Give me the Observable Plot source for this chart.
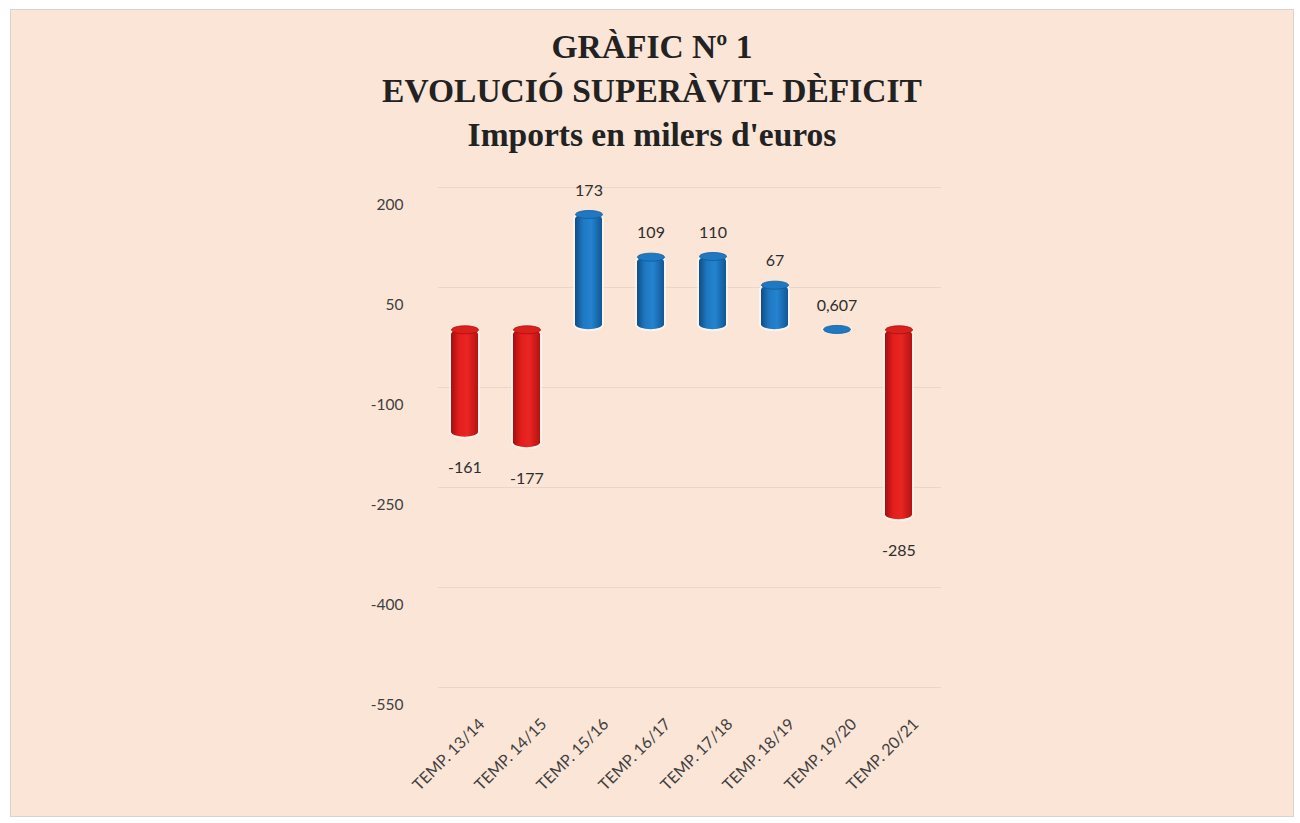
<!DOCTYPE html>
<html>
<head>
<meta charset="utf-8">
<script src="https://cdn.jsdelivr.net/npm/d3@7"></script>
<script src="https://cdn.jsdelivr.net/npm/@observablehq/plot@0.6"></script>
<style>
  html, body { margin: 0; padding: 0; background: #ffffff; }
  body { width: 1300px; height: 823px; position: relative; overflow: hidden; }
  #bg { position: absolute; left: 10px; top: 9px; width: 1284px; height: 808px;
        background: #fae5d6; border: 1px solid #d9d2ce; box-sizing: border-box; }
  #title { position: absolute; left: 0; top: 25px; width: 1304px; text-align: center;
           font-family: "Liberation Serif", "DejaVu Serif", serif; font-weight: bold;
           color: #222222; font-size: 33.5px; line-height: 44px; }
  #chart { position: absolute; left: 0; top: 160px; }
</style>
</head>
<body>
<div id="bg"></div>
<div id="title">
  <div>GRÀFIC Nº 1</div>
  <div>EVOLUCIÓ SUPERÀVIT- DÈFICIT</div>
  <div>Imports en milers d'euros</div>
</div>
<div id="chart"></div>
<script>
// ---- data ----
const categories = ["TEMP. 13/14", "TEMP. 14/15", "TEMP. 15/16", "TEMP. 16/17",
                    "TEMP. 17/18", "TEMP. 18/19", "TEMP. 19/20", "TEMP. 20/21"];
const values = [-161, -177, 173, 109, 110, 67, 0.607, -285];
const valueLabels = ["-161", "-177", "173", "109", "110", "67", "0,607", "-285"];
const yTicks = [200, 50, -100, -250, -400, -550];

const data = categories.map((c, i) => ({cat: c, value: values[i], label: valueLabels[i]}));
const pos = data.filter(d => d.value >= 0);
const neg = data.filter(d => d.value < 0);

// ellipse symbol for cylinder caps
const ellipse = {
  draw(ctx) {
    const a = 13.5, b = 4, k = 0.5523;
    ctx.moveTo(-a, 0);
    ctx.bezierCurveTo(-a, -b * k, -a * k, -b, 0, -b);
    ctx.bezierCurveTo(a * k, -b, a, -b * k, a, 0);
    ctx.bezierCurveTo(a, b * k, a * k, b, 0, b);
    ctx.bezierCurveTo(-a * k, b, -a, b * k, -a, 0);
    ctx.closePath();
  }
};

const chart = Plot.plot({
  width: 1300,
  height: 650,
  marginTop: 36,
  marginBottom: 114,
  marginLeft: 430,
  marginRight: 367,
  style: {background: "transparent", fontFamily: "Lato, 'Open Sans', sans-serif", color: "#404040"},
  x: {domain: categories, paddingInner: 0.57, paddingOuter: 0.285, label: null},
  y: {domain: [-550, 200], label: null},
  marks: [
    Plot.ruleY(yTicks, {stroke: "#ead6c8", strokeWidth: 1.2, dy: -9, dx: 8}),
    Plot.axisY({ticks: yTicks, tickSize: 0, tickPadding: 27, dy: 9, fontSize: 15.5,
                tickFormat: d => String(d), label: null}),
    Plot.axisX({tickRotate: -45, tickSize: 0, tickPadding: 25, dx: 17, fontSize: 16, label: null}),
    // halo
    Plot.barY(data, {x: "cat", y1: 0, y2: "value", fill: "none", stroke: "#ffffff",
                     strokeOpacity: 0.55, strokeWidth: 4, rx: 13.5, ry: 5}),
    // bars
    Plot.barY(pos, {x: "cat", y1: 0, y2: "value", fill: "url(#gBlue)", rx: 13.5, ry: 5}),
    Plot.barY(neg, {x: "cat", y1: 0, y2: "value", fill: "url(#gRed)", rx: 13.5, ry: 5}),
    // caps
    Plot.dot(pos, {x: "cat", y: "value", symbol: ellipse, fill: "#1f78c2", stroke: "#125a96", strokeWidth: 0.8}),
    Plot.dot(neg, {x: "cat", y: 0, symbol: ellipse, fill: "#d9201c", stroke: "#a90f0f", strokeWidth: 0.8}),
    // value labels
    Plot.text(pos, {x: "cat", y: "value", text: "label", dy: -24, fontSize: 16, fill: "#2e2e2e"}),
    Plot.text(neg, {x: "cat", y: "value", text: "label", dy: 31, fontSize: 16, fill: "#2e2e2e"})
  ]
});

d3.select(chart).insert("defs", ":first-child").html(`
  <linearGradient id="gBlue" x1="0" x2="1" y1="0" y2="0">
    <stop offset="0" stop-color="#0e4f86"/>
    <stop offset="0.3" stop-color="#1f78c2"/>
    <stop offset="0.6" stop-color="#2483cf"/>
    <stop offset="1" stop-color="#105795"/>
  </linearGradient>
  <linearGradient id="gRed" x1="0" x2="1" y1="0" y2="0">
    <stop offset="0" stop-color="#a50e0e"/>
    <stop offset="0.3" stop-color="#e21f1c"/>
    <stop offset="0.6" stop-color="#ea2622"/>
    <stop offset="1" stop-color="#b51212"/>
  </linearGradient>`);

document.getElementById("chart").appendChild(chart);
</script>
</body>
</html>
